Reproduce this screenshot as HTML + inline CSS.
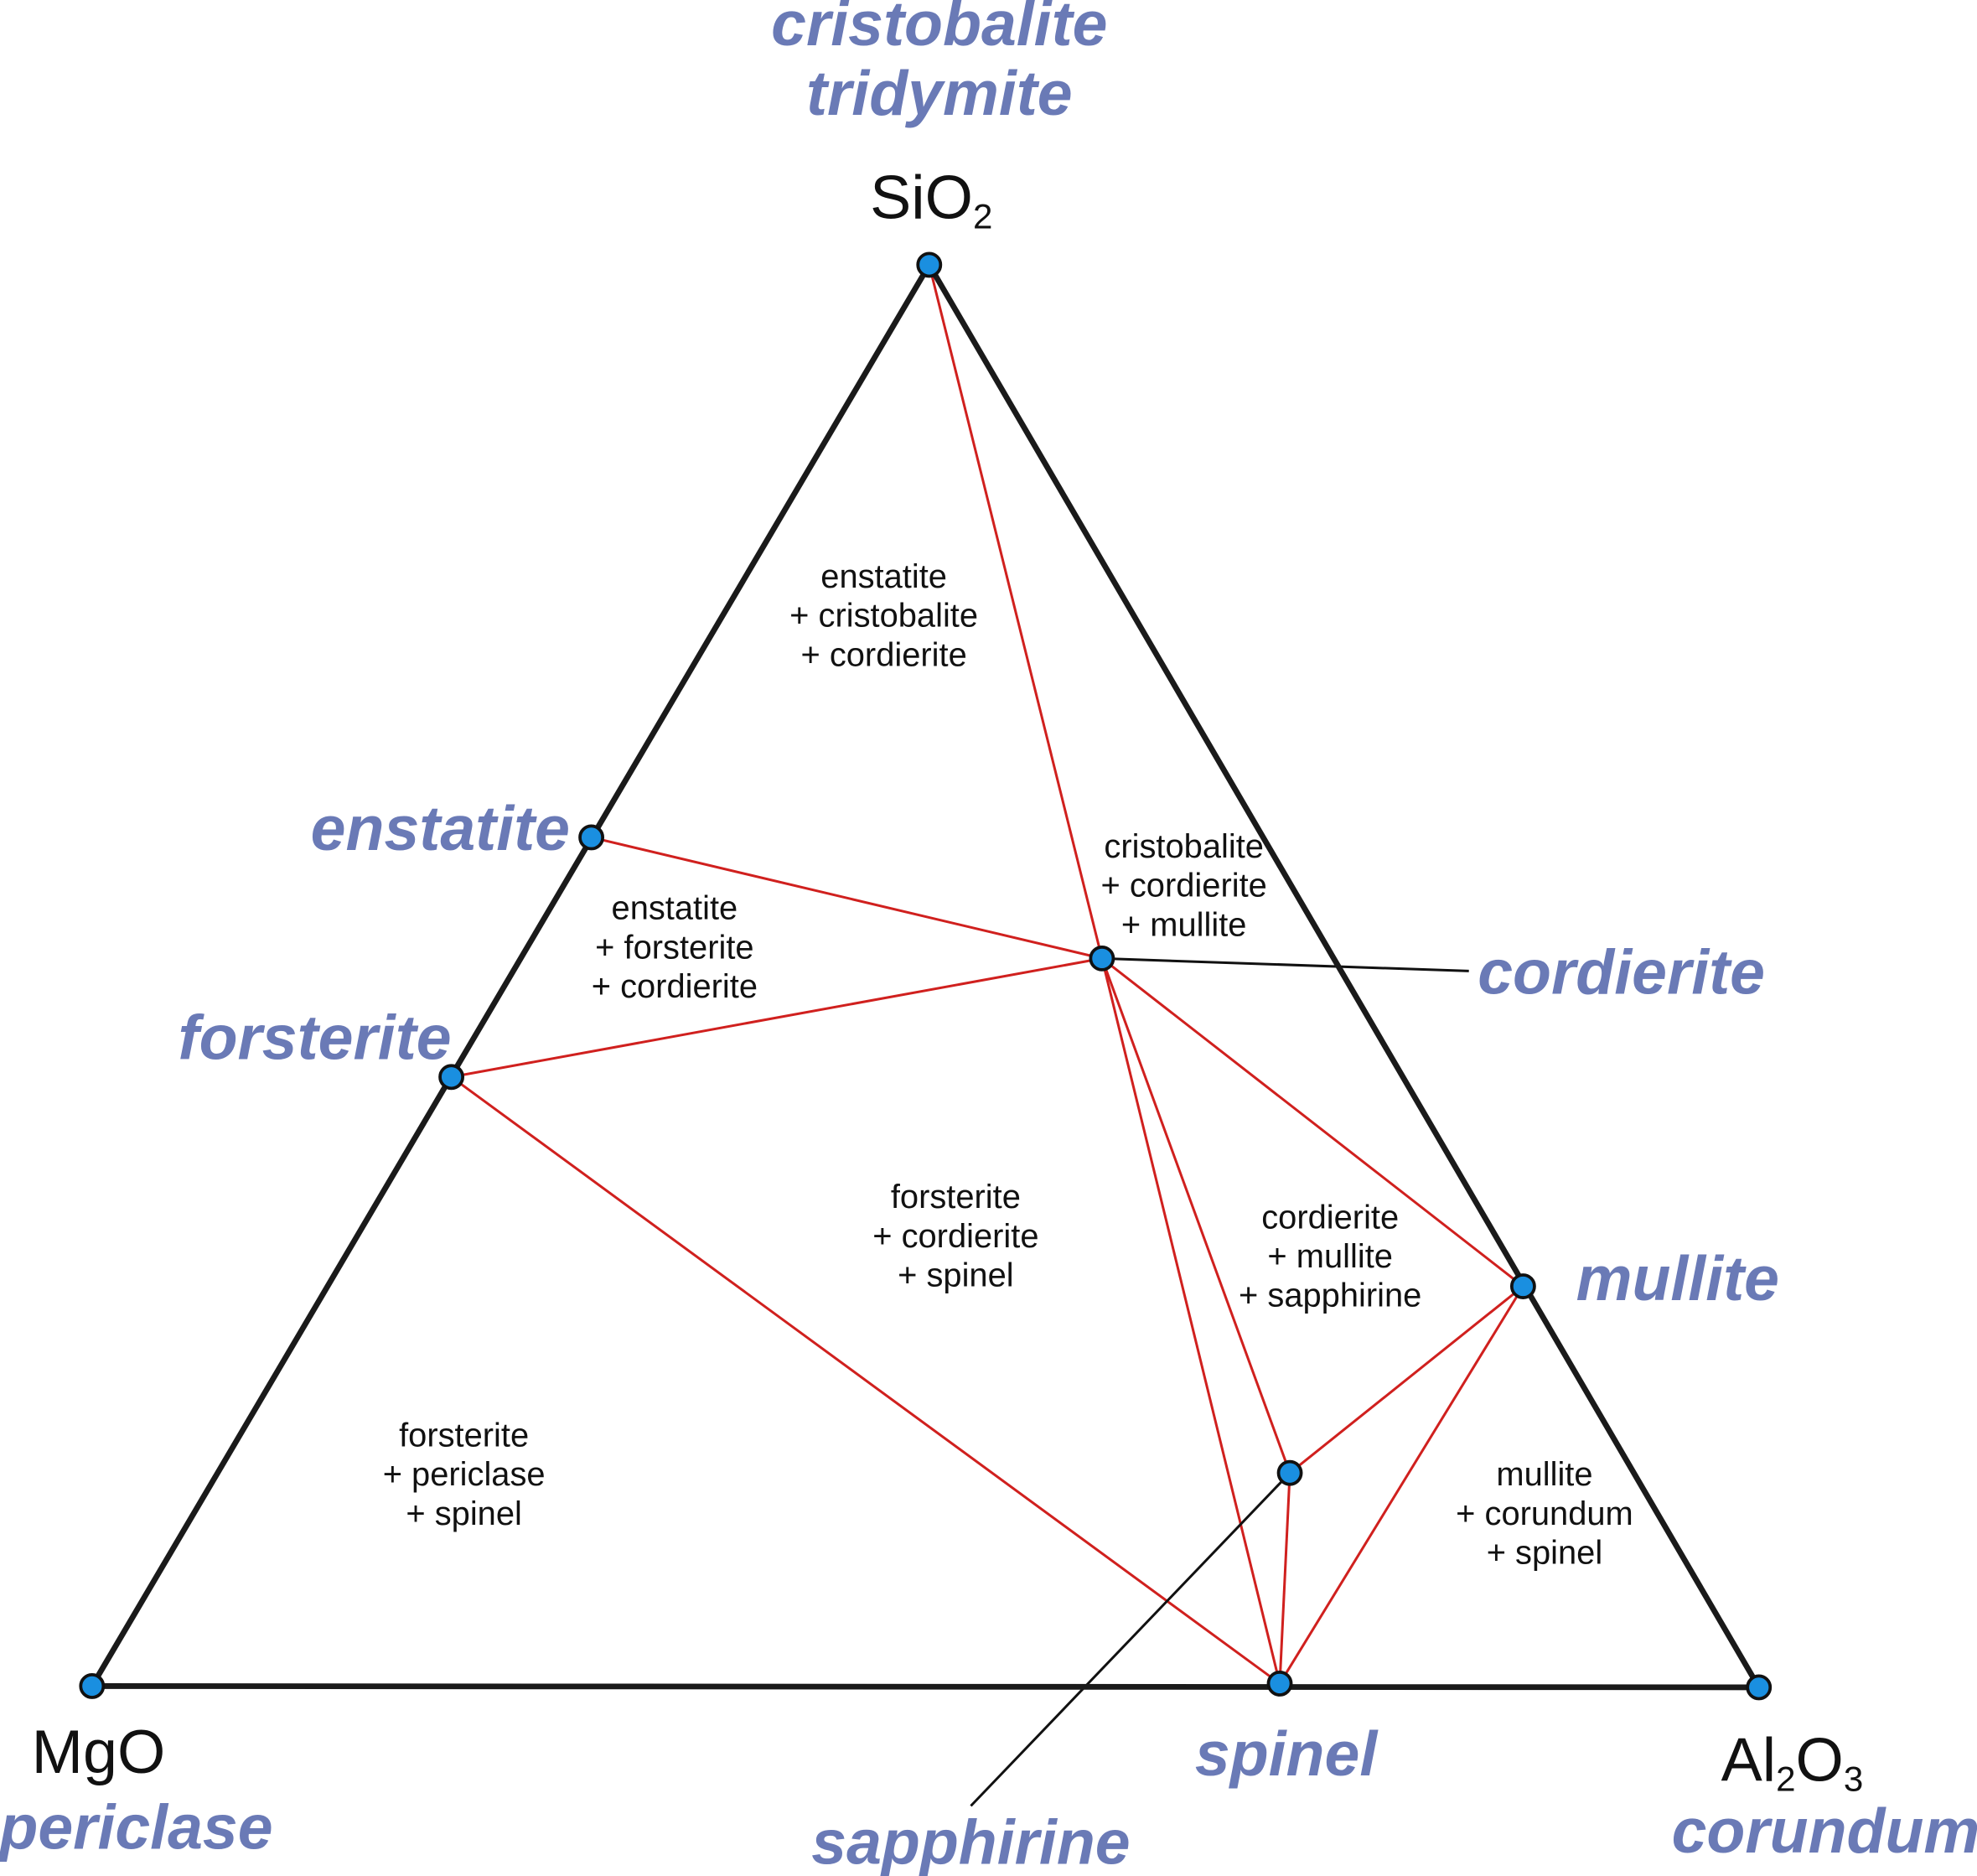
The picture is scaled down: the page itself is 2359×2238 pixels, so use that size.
<!DOCTYPE html>
<html><head><meta charset="utf-8"><style>
html,body{margin:0;padding:0;background:#fff}
svg{display:block}
.b{font-family:"Liberation Sans",sans-serif;font-weight:bold;font-style:italic;fill:#6a7ab6;font-size:50px}
.s{font-family:"Liberation Sans",sans-serif;font-size:26.5px;fill:#111;text-anchor:middle}
.k{font-family:"Liberation Sans",sans-serif;font-size:49px;fill:#111}
</style></head><body>
<svg width="2359" height="2238" viewBox="0 0 1568 1487.6" preserveAspectRatio="none" xmlns="http://www.w3.org/2000/svg">
<g stroke="#d0201e" stroke-width="2" fill="none">
<line x1="737" y1="210" x2="874" y2="760"/>
<line x1="469" y1="664" x2="874" y2="760"/>
<line x1="358" y1="854" x2="874" y2="760"/>
<line x1="874" y1="760" x2="1015" y2="1335"/>
<line x1="874" y1="760" x2="1023" y2="1168"/>
<line x1="874" y1="760" x2="1208" y2="1020"/>
<line x1="358" y1="854" x2="1015" y2="1335"/>
<line x1="1208" y1="1020" x2="1023" y2="1168"/>
<line x1="1208" y1="1020" x2="1015" y2="1335"/>
<line x1="1023" y1="1168" x2="1015" y2="1335"/>
</g>
<g stroke="#111" stroke-width="2">
<line x1="874" y1="760" x2="1165" y2="770"/>
<line x1="1023" y1="1168" x2="770" y2="1432"/>
</g>
<polygon points="737,210 73,1337 1395,1338" fill="none" stroke="#1a1a1a" stroke-width="4.5" stroke-linejoin="miter"/>
<g fill="#1a8fe0" stroke="#111" stroke-width="2.5">
<circle cx="737" cy="210" r="9"/><circle cx="73" cy="1337" r="9"/><circle cx="1395" cy="1338" r="9"/>
<circle cx="469" cy="664" r="9"/><circle cx="358" cy="854" r="9"/><circle cx="874" cy="760" r="9"/>
<circle cx="1208" cy="1020" r="9"/><circle cx="1023" cy="1168" r="9"/><circle cx="1015" cy="1335" r="9"/>
</g>
<text class="b" x="745" y="36" text-anchor="middle">cristobalite</text>
<text class="b" x="745" y="91" text-anchor="middle">tridymite</text>
<text class="k" x="690" y="173">SiO<tspan font-size="28" dy="8">2</tspan></text>
<text class="b" x="452" y="674" text-anchor="end">enstatite</text>
<text class="b" x="358" y="840" text-anchor="end">forsterite</text>
<text class="b" x="1172" y="788">cordierite</text>
<text class="b" x="1250" y="1031">mullite</text>
<text class="b" x="1020" y="1408" text-anchor="middle">spinel</text>
<text class="b" x="770" y="1478" text-anchor="middle">sapphirine</text>
<text class="k" x="25" y="1406">MgO</text>
<text class="b" x="108" y="1466" text-anchor="middle">periclase</text>
<text class="k" x="1365" y="1412">Al<tspan font-size="28" dy="8">2</tspan><tspan dy="-8">O</tspan><tspan font-size="28" dy="8">3</tspan></text>
<text class="b" x="1448" y="1469" text-anchor="middle">corundum</text>
<text class="s" x="701" y="466">enstatite</text><text class="s" x="701" y="497">+ cristobalite</text><text class="s" x="701" y="528">+ cordierite</text>
<text class="s" x="939" y="680">cristobalite</text><text class="s" x="939" y="711">+ cordierite</text><text class="s" x="939" y="742">+ mullite</text>
<text class="s" x="535" y="729">enstatite</text><text class="s" x="535" y="760">+ forsterite</text><text class="s" x="535" y="791">+ cordierite</text>
<text class="s" x="758" y="958">forsterite</text><text class="s" x="758" y="989">+ cordierite</text><text class="s" x="758" y="1020">+ spinel</text>
<text class="s" x="1055" y="974">cordierite</text><text class="s" x="1055" y="1005">+ mullite</text><text class="s" x="1055" y="1036">+ sapphirine</text>
<text class="s" x="368" y="1147">forsterite</text><text class="s" x="368" y="1178">+ periclase</text><text class="s" x="368" y="1209">+ spinel</text>
<text class="s" x="1225" y="1178">mullite</text><text class="s" x="1225" y="1209">+ corundum</text><text class="s" x="1225" y="1240">+ spinel</text>
</svg>
</body></html>
